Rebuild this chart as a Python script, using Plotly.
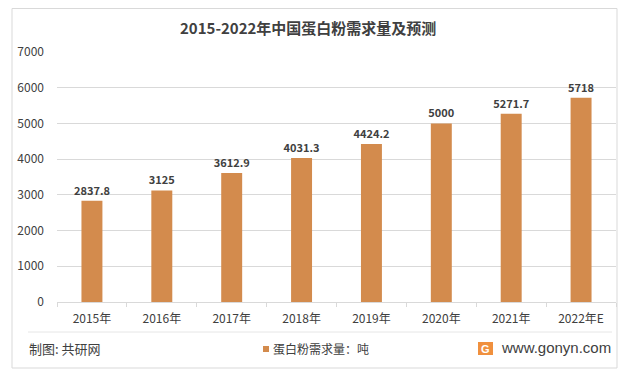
import plotly.graph_objects as go

years = ["2015年", "2016年", "2017年", "2018年", "2019年", "2020年", "2021年", "2022年E"]
demand = [2837.8, 3125, 3612.9, 4031.3, 4424.2, 5000, 5271.7, 5718]
labels = ["2837.8", "3125", "3612.9", "4031.3", "4424.2", "5000", "5271.7", "5718"]
y_ticks = [0, 1000, 2000, 3000, 4000, 5000, 6000, 7000]

# page body has an 8px margin; size the figure to fill the rest of the window
OFF = 8
W, H = 627 - OFF, 377 - OFF
FONT = "Microsoft YaHei, Noto Sans CJK SC, sans-serif"
BAR = "#D38B4D"
TXT = "#404040"

fig = go.Figure()
fig.add_trace(go.Bar(
    x=years, y=demand, name="蛋白粉需求量：吨",
    marker=dict(color=BAR, line=dict(width=0)),
    text=["<b>%s</b>" % s for s in labels], textposition="outside", cliponaxis=False,
    constraintext="none",
    textfont=dict(family=FONT, size=11, color=TXT),
    showlegend=False,
))


def px_x(x):
    return (x - OFF) / W


def px_y(y):
    return 1 - (y - OFF) / H


def note(text, x, y, size, xanchor="center", family=FONT, color=TXT):
    return dict(text=text, x=px_x(x), y=px_y(y), xref="paper", yref="paper",
                xanchor=xanchor, yanchor="middle", showarrow=False,
                font=dict(family=family, size=size, color=color))


fig.update_layout(
    width=W, height=H,
    margin=dict(l=0, r=0, t=0, b=0, pad=0),
    paper_bgcolor="white", plot_bgcolor="white",
    bargap=0.7,
    showlegend=False,
    font=dict(family=FONT, color=TXT, size=11),
    xaxis=dict(
        domain=[px_x(57), px_x(616)],
        automargin=False,
        showgrid=False, showline=True, linecolor="#d9d9d9", linewidth=1,
        ticks="outside", ticklen=4, tickcolor="#d9d9d9",
        tickson="boundaries",
        ticklabelstandoff=6,
        tickfont=dict(family=FONT, size=12, color=TXT),
        fixedrange=True,
    ),
    yaxis=dict(
        domain=[px_y(302), px_y(52)],
        automargin=False,
        range=[0, 7000], tickvals=y_ticks,
        showgrid=True, gridcolor="#d9d9d9", gridwidth=1,
        zeroline=False, showline=False,
        ticklabelstandoff=12,
        tickfont=dict(family=FONT, size=12, color=TXT),
        fixedrange=True,
    ),
    annotations=[
        note("<b>2015-2022年中国蛋白粉需求量及预测</b>", 308, 28, 15),
        note("制图: 共研网", 27, 348, 13, xanchor="left"),
        note("蛋白粉需求量：吨", 271, 348, 12, xanchor="left"),
        note("www.gonyn.com", 613, 347, 15, xanchor="right", family="Arial, Liberation Sans, sans-serif"),
        note("<b>G</b>", 485.5, 348.5, 11, family="Arial, Liberation Sans, sans-serif", color="white"),
    ],
    shapes=[
        dict(type="rect", xref="paper", yref="paper", x0=px_x(12), x1=px_x(617),
             y0=px_y(368), y1=px_y(8.5), line=dict(color="#d9d9d9", width=1)),
        dict(type="line", xref="paper", yref="paper", x0=px_x(28), x1=px_x(612),
             y0=px_y(332), y1=px_y(332), line=dict(color="#e6e6e6", width=1)),
        dict(type="rect", xref="paper", yref="paper", x0=px_x(263), x1=px_x(269),
             y0=px_y(352), y1=px_y(346), line=dict(width=0), fillcolor=BAR),
        dict(type="rect", xref="paper", yref="paper", x0=px_x(478), x1=px_x(493),
             y0=px_y(355), y1=px_y(342), line=dict(width=0), fillcolor="#F0903E"),
    ],
)

fig.write_html("out.html")
